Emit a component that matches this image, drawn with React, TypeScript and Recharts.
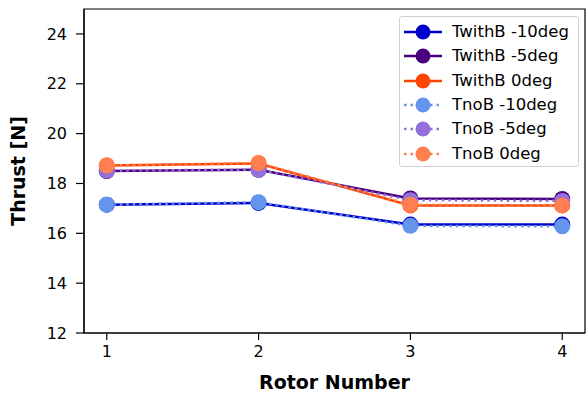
import { LineChart, Line, XAxis, YAxis, ReferenceArea } from "recharts";

const rotors = [1, 2, 3, 4];
const twithBm10 = [17.15, 17.22, 16.35, 16.35];
const twithBm5 = [18.5, 18.55, 17.4, 17.38];
const twithB0 = [18.72, 18.8, 17.12, 17.12];
const tnoBm10 = [17.15, 17.25, 16.3, 16.28];
const tnoBm5 = [18.52, 18.55, 17.33, 17.3];
const tnoB0 = [18.72, 18.82, 17.15, 17.12];
const yTicks = [12, 14, 16, 18, 20, 22, 24];

const series = [
    { key: "wm10", name: "TwithB -10deg", color: "#0000CD", values: twithBm10, dotted: false },
    { key: "wm5", name: "TwithB -5deg", color: "#4B0082", values: twithBm5, dotted: false },
    { key: "w0", name: "TwithB 0deg", color: "#FF4500", values: twithB0, dotted: false },
    { key: "nm10", name: "TnoB -10deg", color: "#6495ED", values: tnoBm10, dotted: true },
    { key: "nm5", name: "TnoB -5deg", color: "#9370DB", values: tnoBm5, dotted: true },
    { key: "n0", name: "TnoB 0deg", color: "#FF7F50", values: tnoB0, dotted: true },
];

const data = rotors.map((r, i) => {
    const row: Record<string, number> = { rotor: r };
    series.forEach((s) => (row[s.key] = s.values[i]));
    return row;
});

const font = "'DejaVu Sans', sans-serif";

function LegendBox() {
    return (
        <div
            style={{
                position: "absolute",
                left: 399,
                top: 16,
                border: "1.5px solid #d0d0d0",
                borderRadius: 3,
                background: "rgba(255,255,255,0.8)",
                width: 180,
                height: 151,
                boxSizing: "border-box",
                paddingTop: 3,
                fontFamily: font,
                fontSize: 16.5,
                whiteSpace: "nowrap",
            }}
        >
            {series.map((s) => (
                <div key={s.key} style={{ display: "flex", alignItems: "center", height: 24.3 }}>
                    <svg width={52} height={20} style={{ flexShrink: 0 }}>
                        <line
                            x1={4}
                            x2={42}
                            y1={10}
                            y2={10}
                            stroke={s.color}
                            strokeWidth={2.5}
                            strokeDasharray={s.dotted ? "2.5 4" : undefined}
                        />
                        <circle cx={23} cy={10} r={7.5} fill={s.color} />
                    </svg>
                    <span style={{ color: "#000", lineHeight: "20px" }}>{s.name}</span>
                </div>
            ))}
        </div>
    );
}

export default function App() {
    return (
        <div style={{ position: "absolute", left: 0, top: 0, width: 586, height: 394, background: "#fff" }}>
            <LineChart
                width={586}
                height={394}
                data={data}
                margin={{ top: 9, right: 1, left: 0, bottom: 0 }}
            >
                <XAxis
                    dataKey="rotor"
                    type="number"
                    domain={[0.85, 4.15]}
                    ticks={rotors}
                    axisLine={{ stroke: "#000", strokeWidth: 1.2 }}
                    tickLine={{ stroke: "#000", strokeWidth: 1.2 }}
                    tickSize={7}
                    tickMargin={6}
                    height={61}
                    tick={{ fontSize: 16, fill: "#000", fontFamily: font }}
                    label={{
                        value: "Rotor Number",
                        position: "insideBottom",
                        offset: 5,
                        style: { fontSize: 19, fontWeight: "bold", fill: "#000", fontFamily: font },
                    }}
                />
                <YAxis
                    type="number"
                    domain={[12, 25]}
                    ticks={yTicks}
                    width={84}
                    axisLine={{ stroke: "#000", strokeWidth: 1.2 }}
                    tickLine={{ stroke: "#000", strokeWidth: 1.2 }}
                    tickSize={8}
                    tickMargin={9}
                    tick={{ fontSize: 16, fill: "#000", fontFamily: font }}
                    label={{
                        value: "Thrust [N]",
                        angle: -90,
                        position: "insideLeft",
                        offset: 18,
                        style: { textAnchor: "middle", fontSize: 19, fontWeight: "bold", fill: "#000", fontFamily: font },
                    }}
                />
                <ReferenceArea
                    x1={0.85}
                    x2={4.15}
                    y1={12}
                    y2={25}
                    fill="none"
                    stroke="#000"
                    strokeWidth={1.2}
                    ifOverflow="visible"
                />
                {series.map((s) => (
                    <Line
                        key={s.key}
                        dataKey={s.key}
                        name={s.name}
                        type="linear"
                        stroke={s.color}
                        strokeWidth={2.5}
                        strokeDasharray={s.dotted ? "2.5 4" : undefined}
                        dot={{ r: 8, fill: s.color, stroke: "none" }}
                        activeDot={false}
                        isAnimationActive={false}
                    />
                ))}
            </LineChart>
            <LegendBox />
        </div>
    );
}
